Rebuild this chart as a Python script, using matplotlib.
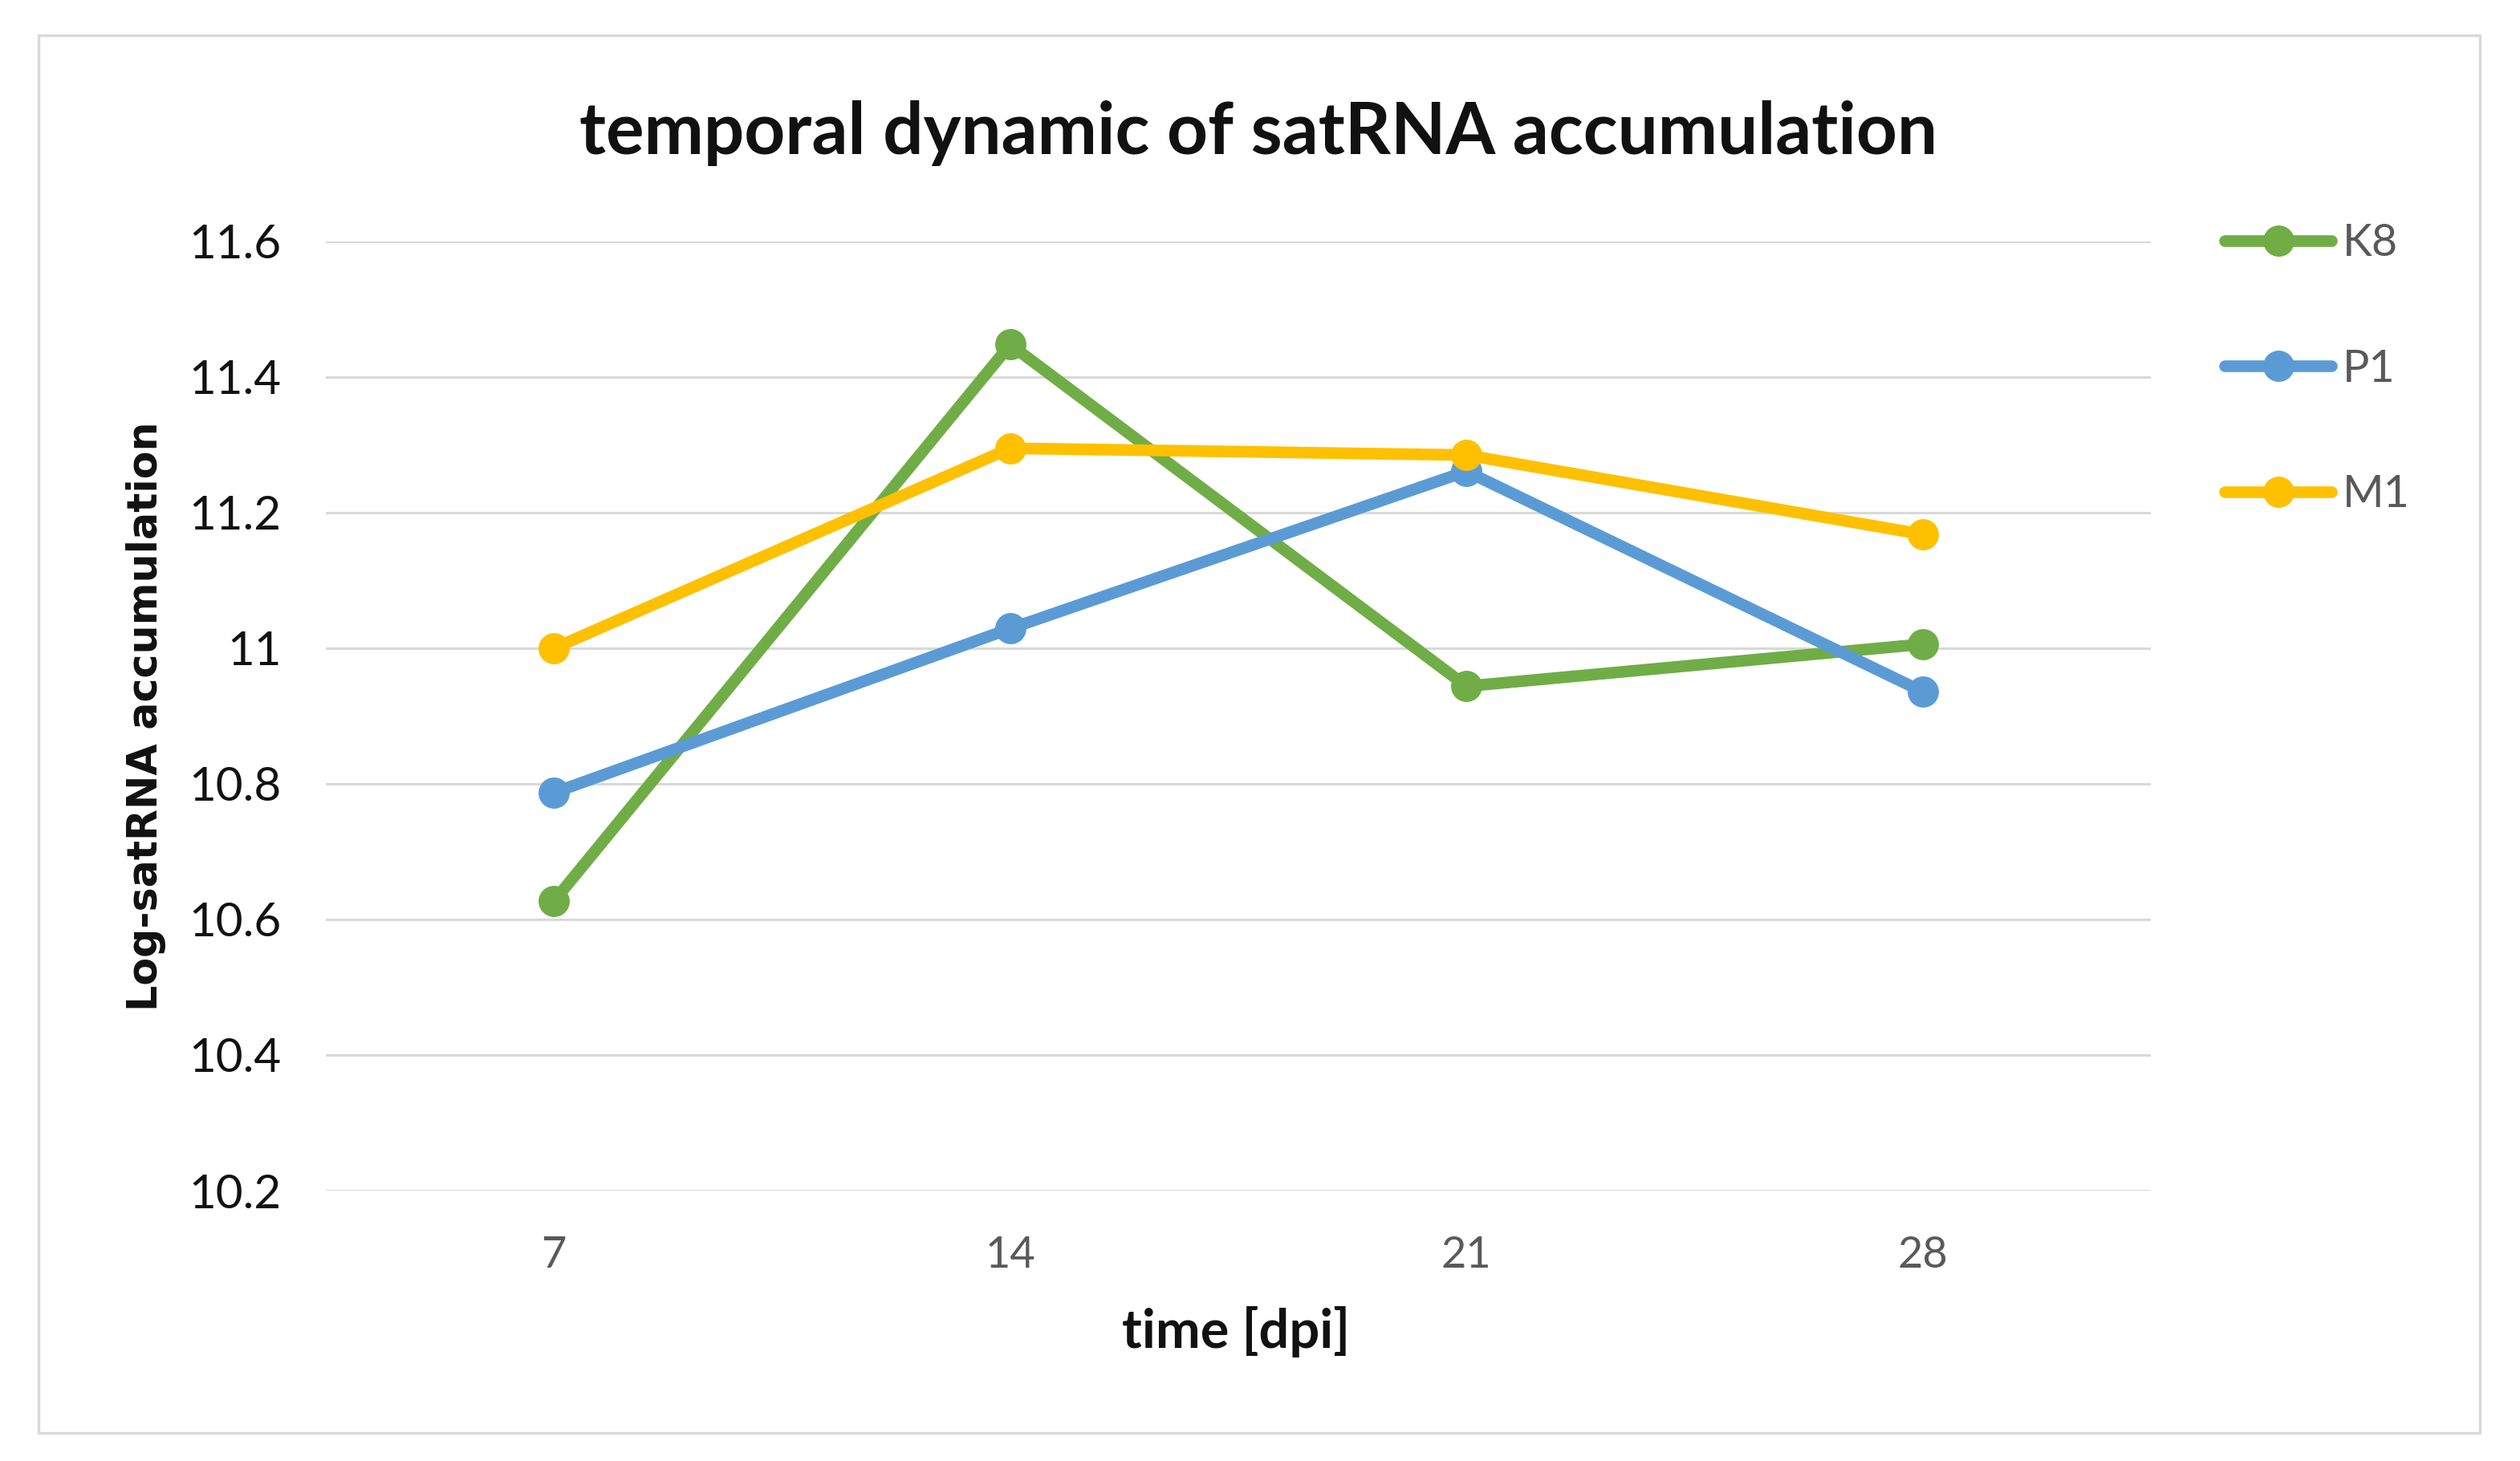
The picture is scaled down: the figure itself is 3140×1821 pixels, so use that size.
import matplotlib
matplotlib.use("Agg")
import matplotlib.pyplot as plt
from matplotlib.patches import Rectangle

days = ["7", "14", "21", "28"]
k8 = [10.627, 11.448, 10.944, 11.006]
p1 = [10.787, 11.029, 11.261, 10.936]
m1 = [11.000, 11.295, 11.285, 11.168]
series_names = ["K8", "P1", "M1"]
y_ticks = [10.2, 10.4, 10.6, 10.8, 11.0, 11.2, 11.4, 11.6]
y_tick_labels = ["10.2", "10.4", "10.6", "10.8", "11", "11.2", "11.4", "11.6"]

colors = ["#70AD47", "#5B9BD5", "#FFC000"]

W, H = 3140, 1821
fig = plt.figure(figsize=(W / 100, H / 100), dpi=100)
fig.patch.set_facecolor("white")

# outer chart border
fig.add_artist(Rectangle((48 / W, 1 - 1786 / H), (3090 - 48) / W, (1786 - 44) / H,
                         transform=fig.transFigure, fill=False,
                         edgecolor="#D9D9D9", linewidth=2.5))

ax = fig.add_axes([406 / W, 1 - 1484 / H, (2680 - 406) / W, (1484 - 301) / H])
x = list(range(len(days)))
for vals, name, c in zip([k8, p1, m1], series_names, colors):
    ax.plot(x, vals, color=c, linewidth=10.5, marker="o", markersize=27,
            label=name, solid_capstyle="round", solid_joinstyle="round", zorder=3)

ax.set_xlim(-0.5, len(days) - 0.5)
ax.set_ylim(10.2, 11.6)
ax.set_yticks(y_ticks)
ax.set_yticklabels(y_tick_labels, fontfamily="Lato", fontsize=42, color="#111111")
ax.set_xticks(x)
ax.set_xticklabels(days, fontfamily="Lato", fontsize=39, color="#595959")
ax.tick_params(axis="both", length=0)
ax.tick_params(axis="y", pad=40)
ax.tick_params(axis="x", pad=40)
for s in ax.spines.values():
    s.set_visible(False)
ax.grid(axis="y", color="#D9D9D9", linewidth=2.2, zorder=0)
ax.set_axisbelow(True)

fig.text(1540 / W, 1 - 1660 / H, "time [dpi]", ha="center", va="center",
         fontfamily="Lato", fontweight="bold", fontsize=48, color="#111111")
fig.text(182 / W, 1 - 893 / H, "Log-satRNA accumulation", rotation=90,
         ha="center", va="center", fontfamily="DejaVu Sans", fontweight="bold",
         fontsize=36.5, color="#111111")
fig.text(1568 / W, 1 - 166 / H, "temporal dynamic of satRNA accumulation",
         ha="center", va="center", fontfamily="Lato", fontweight="bold",
         fontsize=64, color="#111111")

leg = ax.legend(loc="upper left", bbox_to_anchor=(2772 / W, 1 - 278 / H),
                bbox_transform=fig.transFigure, frameon=False,
                prop={"family": "Lato", "size": 40}, handlelength=2.4,
                handletextpad=0.25, labelspacing=1.9, borderaxespad=0,
                borderpad=0)
for t in leg.get_texts():
    t.set_color("#595959")

fig.savefig("out.png", dpi=100, facecolor="white")
